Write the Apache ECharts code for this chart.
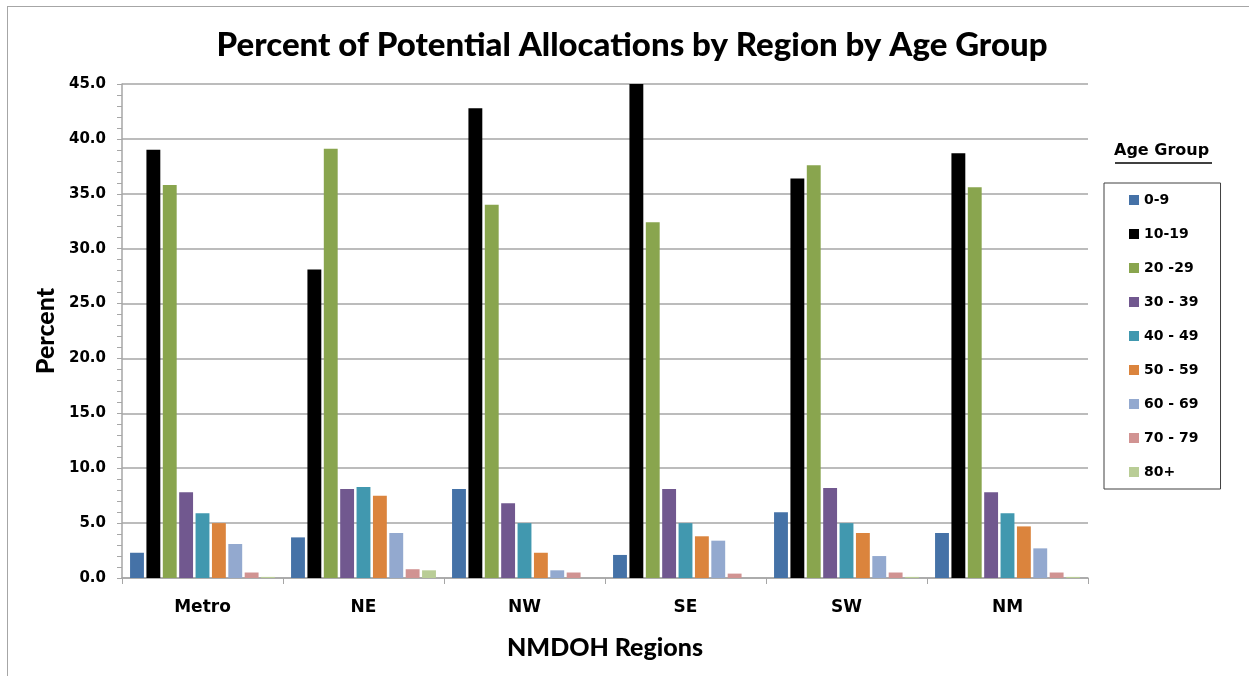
<!DOCTYPE html>
<html>
<head>
<meta charset="utf-8">
<script src="https://cdn.jsdelivr.net/npm/echarts@6/dist/echarts.min.js"></script>
<style>
  html, body { margin: 0; padding: 0; background: #fff; }
  #frame {
    position: absolute; left: 7px; top: 6px; width: 1260px; height: 690px;
    border-left: 1px solid #a6a6a6; border-top: 1px solid #a6a6a6;
  }
  #chart-container { position: absolute; left: 0; top: 0; width: 1249px; height: 676px; }
</style>
</head>
<body>
<div id="frame"></div>
<div id="chart-container"></div>
<script>
// regions on the x axis
var regions = ["Metro", "NE", "NW", "SE", "SW", "NM"];
var ageGroups = ["0-9", "10-19", "20 -29", "30 - 39", "40 - 49", "50 - 59", "60 - 69", "70 - 79", "80+"];

// percent by age group, one value per region
var age0_9   = [2.3, 3.7, 8.1, 2.1, 6.0, 4.1];
var age10_19 = [39.0, 28.1, 42.8, 45.0, 36.4, 38.7];
var age20_29 = [35.8, 39.1, 34.0, 32.4, 37.6, 35.6];
var age30_39 = [7.8, 8.1, 6.8, 8.1, 8.2, 7.8];
var age40_49 = [5.9, 8.3, 5.0, 5.0, 5.0, 5.9];
var age50_59 = [5.0, 7.5, 2.3, 3.8, 4.1, 4.7];
var age60_69 = [3.1, 4.1, 0.7, 3.4, 2.0, 2.7];
var age70_79 = [0.5, 0.8, 0.5, 0.4, 0.5, 0.5];
var age80    = [0.1, 0.7, 0.0, 0.0, 0.1, 0.1];

var colors = ["#4572A7", "#000000", "#89A54E", "#71588F", "#4198AF", "#DB843D", "#93A9CF", "#D19392", "#B9CD96"];
var allValues = [age0_9, age10_19, age20_29, age30_39, age40_49, age50_59, age60_69, age70_79, age80];

var dom = document.getElementById("chart-container");
var myChart = echarts.init(dom, null, { renderer: "canvas" });

var series = ageGroups.map(function (name, i) {
  return {
    name: name,
    type: "bar",
    data: allValues[i],
    barGap: "18%",
    barCategoryGap: "10%",
    itemStyle: { color: colors[i] }
  };
});

var option = {
  animation: false,
  color: colors,
  textStyle: { fontFamily: "DejaVu Sans" },
  title: {
    text: "Percent of Potential Allocations by Region by Age Group",
    left: 627,
    textAlign: "center",
    top: 24,
    textStyle: { fontFamily: "Lato", fontWeight: 900, fontSize: 33, color: "#000" }
  },
  legend: {
    orient: "vertical",
    left: 1104,
    top: 183,
    icon: "rect",
    itemWidth: 10,
    itemHeight: 10,
    itemGap: 18,
    padding: [9, 22, 9, 25],
    borderColor: "#404040",
    borderWidth: 1,
    textStyle: { fontFamily: "DejaVu Sans", fontWeight: "bold", fontSize: 14, color: "#000", lineHeight: 16 },
    data: ageGroups
  },
  grid: { left: 122, top: 84, right: 161, bottom: 98 },
  xAxis: {
    type: "category",
    data: regions,
    name: "NMDOH Regions",
    nameLocation: "middle",
    nameGap: 57,
    nameTextStyle: { fontFamily: "Lato", fontWeight: 900, fontSize: 25, color: "#000" },
    axisLine: { lineStyle: { color: "#a6a6a6", width: 1.5 } },
    axisTick: { show: true, length: 6, lineStyle: { color: "#a6a6a6" } },
    axisLabel: { margin: 21, fontFamily: "DejaVu Sans", fontWeight: "bold", fontSize: 17, color: "#000" }
  },
  yAxis: {
    type: "value",
    min: 0,
    max: 45,
    interval: 5,
    name: "Percent",
    nameLocation: "middle",
    nameGap: 63,
    nameTextStyle: { fontFamily: "Lato", fontWeight: 900, fontSize: 25, color: "#000" },
    axisLine: { show: true, lineStyle: { color: "#a6a6a6", width: 1.5 } },
    axisTick: { show: true, length: 5, lineStyle: { color: "#a6a6a6" } },
    minorTick: { show: true, splitNumber: 5, length: 5, lineStyle: { color: "#a6a6a6" } },
    splitLine: { lineStyle: { color: "#a6a6a6", width: 1.5 } },
    axisLabel: {
      margin: 16,
      fontFamily: "DejaVu Sans", fontWeight: "bold", fontSize: 15, color: "#000",
      formatter: function (v) { return v.toFixed(1); }
    }
  },
  graphic: [
    {
      type: "text",
      left: 1114,
      top: 143,
      style: { text: "Age Group", font: "bold 16px 'DejaVu Sans'", fill: "#000" }
    },
    {
      type: "line",
      shape: { x1: 1115, y1: 163, x2: 1212, y2: 163 },
      style: { stroke: "#000", lineWidth: 1.5 }
    }
  ],
  series: series
};

if (option && typeof option === "object") {
  myChart.setOption(option);
}

window.addEventListener("resize", myChart.resize);
</script>
</body>
</html>
